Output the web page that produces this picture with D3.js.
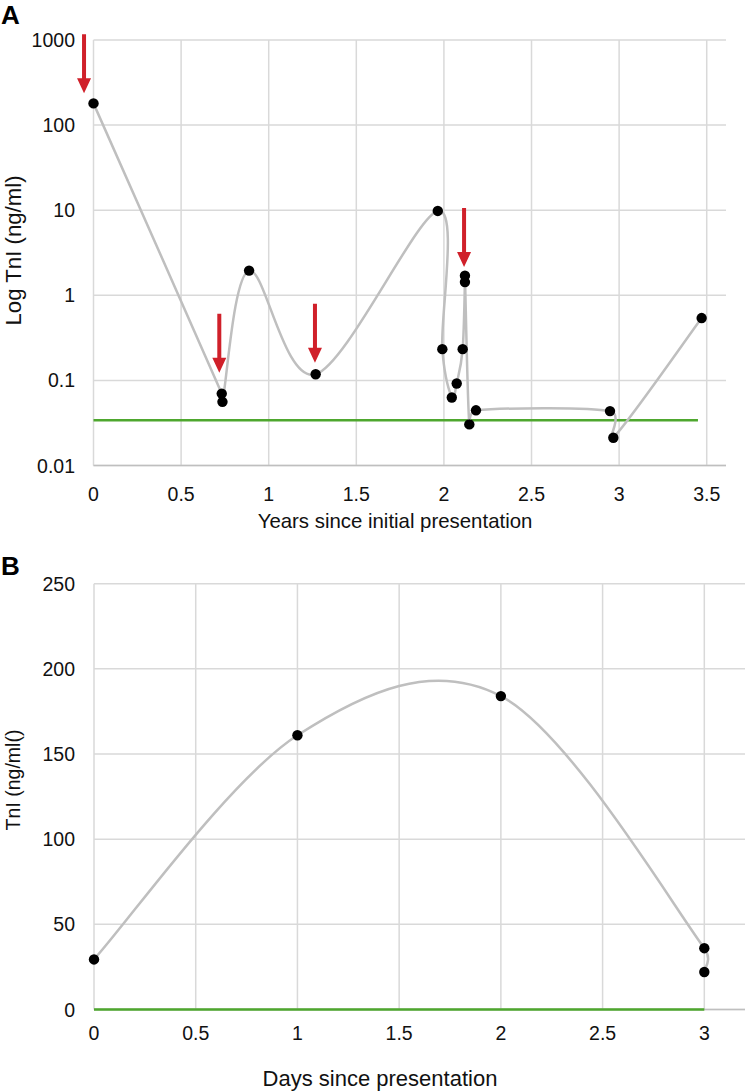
<!DOCTYPE html>
<html><head><meta charset="utf-8">
<script src="https://cdn.jsdelivr.net/npm/d3@7"></script>
<style>body{margin:0;background:#fff;} svg{display:block;font-family:"Liberation Sans",Arial,sans-serif;}</style>
</head><body>
<svg id="c" width="747" height="1091"></svg>
<script>
// Panel A data (years, TnI ng/ml, log scale)
const yearsA = [0, 0.732, 0.736, 0.888, 1.268, 1.965, 1.991, 2.045, 2.073, 2.107, 2.12, 2.12, 2.145, 2.183, 2.948, 2.967, 3.471];
const tniA   = [180, 0.070, 0.056, 1.95, 0.118, 9.8, 0.233, 0.063, 0.092, 0.233, 1.43, 1.70, 0.0304, 0.0445, 0.0436, 0.0212, 0.54];
const xTicksA = [0, 0.5, 1, 1.5, 2, 2.5, 3, 3.5];
const yTicksA = [0.01, 0.1, 1, 10, 100, 1000];
const yTickLabelsA = ["0.01", "0.1", "1", "10", "100", "1000"];
const refLevelA = 0.034;
const refRangeA = [0, 3.45];
// arrows: x position and the value at the arrow tip
const arrowX = [-0.054, 0.718, 1.264, 2.115];
const arrowTip = [237, 0.123, 0.161, 2.15];

// Panel B data (days, TnI ng/ml)
const daysB = [0, 1, 2, 3, 3];
const tniB  = [29.4, 161, 184, 36, 22];
const xTicksB = [0, 0.5, 1, 1.5, 2, 2.5, 3];
const yTicksB = [0, 50, 100, 150, 200, 250];
const refLevelB = 0;
const refRangeB = [0, 3];

const svg = d3.select("#c");
const gridCol = "#d9d9d9", lineCol = "#bfbfbf", greenCol = "#4ea72e", redCol = "#d0202a";
const fs = 19.5;

// Excel-like smoothed line: cubic Bezier with Catmull-Rom tangents, clamped by segment length
function smoothPath(p) {
  const n = p.length, k = 0.6;
  const T = p.map((q, i) => {
    const a = p[Math.max(0, i - 1)], b = p[Math.min(n - 1, i + 1)];
    return [(b[0] - a[0]) / 6, (b[1] - a[1]) / 6];
  });
  const len = v => Math.hypot(v[0], v[1]);
  const path = d3.path();
  path.moveTo(p[0][0], p[0][1]);
  for (let i = 0; i < n - 1; i++) {
    const seg = len([p[i + 1][0] - p[i][0], p[i + 1][1] - p[i][1]]);
    const t0 = T[i], t1 = T[i + 1];
    const s0 = len(t0) > 0 ? Math.min(1, k * seg / len(t0)) : 0;
    const s1 = len(t1) > 0 ? Math.min(1, k * seg / len(t1)) : 0;
    path.bezierCurveTo(p[i][0] + t0[0] * s0, p[i][1] + t0[1] * s0,
                       p[i + 1][0] - t1[0] * s1, p[i + 1][1] - t1[1] * s1,
                       p[i + 1][0], p[i + 1][1]);
  }
  return path.toString();
}

function panel(opt) {
  const g = svg.append("g");
  const x = opt.x, y = opt.y;
  g.selectAll(".vg").data(opt.xTicks).join("line")
    .attr("x1", d => x(d)).attr("x2", d => x(d))
    .attr("y1", y.range()[1]).attr("y2", y.range()[0])
    .attr("stroke", gridCol).attr("stroke-width", 1.5);
  g.selectAll(".hg").data(opt.yTicks).join("line")
    .attr("x1", x.range()[0]).attr("x2", x.range()[1])
    .attr("y1", d => y(d)).attr("y2", d => y(d))
    .attr("stroke", gridCol).attr("stroke-width", 1.5);
  g.append("line").attr("x1", x.range()[0]).attr("x2", x.range()[1])
    .attr("y1", y.range()[0]).attr("y2", y.range()[0]).attr("stroke", lineCol).attr("stroke-width", 1.5);
  g.selectAll(".xl").data(opt.xTicks).join("text")
    .attr("x", d => x(d)).attr("y", opt.xLabelY).attr("text-anchor", "middle")
    .attr("dominant-baseline", "central").attr("font-size", fs).attr("fill", "#111")
    .text(d => d);
  g.selectAll(".yl").data(opt.yTicks).join("text")
    .attr("x", 75).attr("y", d => y(d)).attr("text-anchor", "end")
    .attr("dominant-baseline", "central").attr("font-size", fs).attr("fill", "#111")
    .text((d, i) => opt.yLabels ? opt.yLabels[i] : d);
  g.append("text").attr("x", opt.xTitleX)
    .attr("y", opt.xTitleY).attr("text-anchor", "middle").attr("dominant-baseline", "central")
    .attr("font-size", opt.xTitleFs).attr("fill", "#111").text(opt.xTitle);
  g.append("text").attr("transform", `translate(13,${opt.yTitleY}) rotate(-90)`)
    .attr("text-anchor", "middle").attr("dominant-baseline", "central")
    .attr("font-size", opt.yTitleFs).attr("fill", "#111").text(opt.yTitle);
  g.append("line").attr("x1", x(opt.refRange[0])).attr("x2", x(opt.refRange[1]))
    .attr("y1", y(opt.ref)).attr("y2", y(opt.ref)).attr("stroke", greenCol).attr("stroke-width", 2.5);
  const pts = opt.xs.map((v, i) => [x(v), y(opt.ys[i])]);
  g.append("path").attr("d", smoothPath(pts)).attr("fill", "none").attr("stroke", lineCol).attr("stroke-width", 2.5);
  g.selectAll(".pt").data(pts).join("circle")
    .attr("cx", d => d[0]).attr("cy", d => d[1]).attr("r", 5.2).attr("fill", "#000");
  svg.append("text").attr("x", 1).attr("y", opt.letterY).attr("dominant-baseline", "central")
    .attr("font-size", 26).attr("font-weight", "bold").attr("fill", "#000").text(opt.letter);
  return g;
}

const xA = d3.scaleLinear().domain([0, 3.61]).range([93.5, 726]);
const yA = d3.scaleLog().domain([0.01, 1000]).range([465.5, 40]);
const gA = panel({x: xA, y: yA, xTicks: xTicksA, yTicks: yTicksA, yLabels: yTickLabelsA,
  xs: yearsA, ys: tniA, ref: refLevelA, refRange: refRangeA,
  xLabelY: 494, xTitleX: 395, xTitleY: 521, xTitleFs: 20.4, xTitle: "Years since initial presentation",
  yTitleY: 250.5, yTitleFs: 22.2, yTitle: "Log TnI (ng/ml)", letter: "A", letterY: 15});

const arrowLen = 59, headH = 15, headW = 14, shaftW = 4;
gA.selectAll(".arrow").data(arrowX.map((v, i) => [v, arrowTip[i]])).join("path")
  .attr("d", d => {
    const ax = xA(d[0]), ty = yA(d[1]), top = ty - arrowLen;
    return `M${ax - shaftW/2},${top} L${ax + shaftW/2},${top} L${ax + shaftW/2},${ty - headH} L${ax + headW/2},${ty - headH} L${ax},${ty} L${ax - headW/2},${ty - headH} L${ax - shaftW/2},${ty - headH} Z`;
  })
  .attr("fill", redCol);

const xB = d3.scaleLinear().domain([0, 3.2]).range([94, 745]);
const yB = d3.scaleLinear().domain([0, 250]).range([1009.5, 583.7]);
panel({x: xB, y: yB, xTicks: xTicksB, yTicks: yTicksB,
  xs: daysB, ys: tniB, ref: refLevelB, refRange: refRangeB,
  xLabelY: 1033, xTitleX: 380, xTitleY: 1078, xTitleFs: 22, xTitle: "Days since presentation",
  yTitleY: 780, yTitleFs: 19.5, yTitle: "TnI (ng/ml()", letter: "B", letterY: 566});
</script>
</body></html>
